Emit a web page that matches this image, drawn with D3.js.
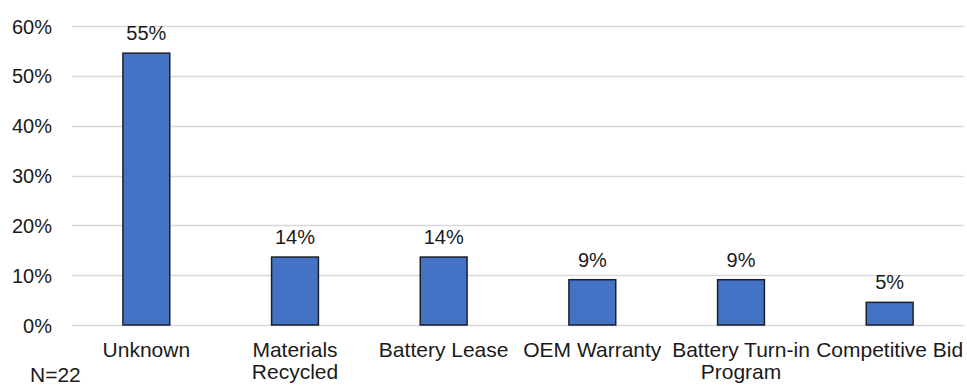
<!DOCTYPE html>
<html>
<head>
<meta charset="utf-8">
<script src="https://cdn.jsdelivr.net/npm/d3@7"></script>
<style>
  html, body { margin: 0; padding: 0; background: #fff; }
  svg { display: block; font-family: "Liberation Sans", Arial, sans-serif; }
</style>
</head>
<body>
<svg id="chart" width="967" height="385"></svg>
<script>
// Share of responses by battery end-of-life path (N=22)
const categories = [
  ["Unknown"],
  ["Materials", "Recycled"],
  ["Battery Lease"],
  ["OEM Warranty"],
  ["Battery Turn-in", "Program"],
  ["Competitive Bid"]
];
const counts = [12, 3, 3, 2, 2, 1];
const total = 22;
const values = counts.map(c => c / total);
const yTicks = [0, 0.1, 0.2, 0.3, 0.4, 0.5, 0.6];
const sampleNote = "N=22";

const svg = d3.select("#chart");
const margin = { left: 72, right: 3, top: 26, bottom: 60 };
const width = 967, height = 385;

const x = d3.scaleBand()
  .domain(d3.range(categories.length))
  .range([margin.left, width - margin.right])
  .paddingInner(0.685)
  .paddingOuter(0.3425);

const y = d3.scaleLinear()
  .domain([0, 0.6])
  .range([325, 26]);

const fmt = d3.format(".0%");

// gridlines
svg.append("g")
  .selectAll("line")
  .data(yTicks)
  .join("line")
  .attr("x1", margin.left)
  .attr("x2", 964)
  .attr("y1", d => Math.round(y(d)) + 0.5)
  .attr("y2", d => Math.round(y(d)) + 0.5)
  .attr("stroke", "#d9d9d9")
  .attr("stroke-width", 1.5);

// y axis labels
const yAxis = d3.axisLeft(y).tickValues(yTicks).tickFormat(fmt).tickSize(0).tickPadding(0);
const yg = svg.append("g")
  .attr("transform", "translate(52,0)")
  .call(yAxis);
yg.select(".domain").remove();
yg.selectAll("text")
  .attr("font-size", 20)
  .attr("font-family", "Liberation Sans, Arial, sans-serif")
  .attr("fill", "#1a1a1a")
  .attr("dy", "0.35em");

// bars
svg.append("g")
  .selectAll("rect")
  .data(values)
  .join("rect")
  .attr("x", (d, i) => x(i))
  .attr("width", x.bandwidth())
  .attr("y", d => y(d))
  .attr("height", d => y(0) - y(d))
  .attr("fill", "#4472c4")
  .attr("stroke", "#1b1f2a")
  .attr("stroke-width", 1.5);

// value labels
svg.append("g")
  .selectAll("text")
  .data(values)
  .join("text")
  .attr("x", (d, i) => x(i) + x.bandwidth() / 2)
  .attr("y", d => y(d) - 13)
  .attr("text-anchor", "middle")
  .attr("font-size", 20)
  .attr("fill", "#1a1a1a")
  .text(d => fmt(d));

// category labels
const cat = svg.append("g")
  .selectAll("text")
  .data(categories)
  .join("text")
  .attr("x", (d, i) => x(i) + x.bandwidth() / 2)
  .attr("y", 357)
  .attr("text-anchor", "middle")
  .attr("font-size", 21)
  .attr("fill", "#1a1a1a");
cat.selectAll("tspan")
  .data(d => d)
  .join("tspan")
  .attr("x", function() { return d3.select(this.parentNode).attr("x"); })
  .attr("dy", (d, i) => i === 0 ? 0 : 22)
  .text(d => d);

// sample size note
svg.append("text")
  .attr("x", 30)
  .attr("y", 382)
  .attr("font-size", 21)
  .attr("fill", "#1a1a1a")
  .text(sampleNote);
</script>
</body>
</html>
